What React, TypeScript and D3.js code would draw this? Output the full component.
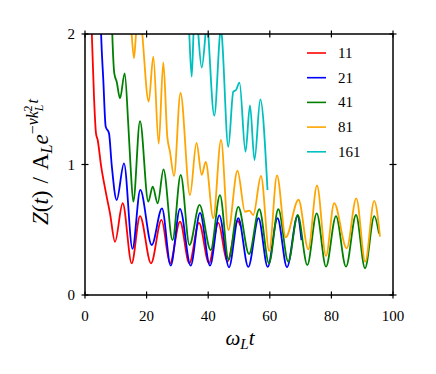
import React from "react";
import * as d3 from "d3";

const xTicks = [0, 20, 40, 60, 80, 100];
const yTicks = [0, 1, 2];
const seriesNames = ["11", "21", "41", "81", "161"];
const seriesColors = ["#ff0000", "#0000ff", "#008000", "#ffa500", "#00bfbf"];

const data11: [number, number][] = [
  [1.8, 2.3], [2.18, 2.03], [2.92, 1.52], [3.57, 1.239], [4.12, 1.188], [5.19, 0.996],
  [6.72, 0.792], [8.12, 0.626], [9.74, 0.408], [12.24, 0.703], [15.16, 0.243],
  [17.86, 0.605], [21.43, 0.243], [24.84, 0.575], [27.6, 0.243], [30.84, 0.562],
  [33.86, 0.243], [37.01, 0.552], [40.26, 0.245], [43.28, 0.552], [46.2, 0.255],
  [49.6, 0.567], [50.5, 0.53],
];

const data21: [number, number][] = [
  [4.9, 2.3], [5.19, 2.03], [5.94, 1.65], [6.72, 1.29], [7.79, 1.239], [8.67, 0.996],
  [10.29, 0.728], [12.66, 1.009], [15.42, 0.354], [17.95, 0.805], [21.66, 0.383],
  [25.0, 0.664], [27.82, 0.225], [30.84, 0.66], [34.32, 0.225], [37.34, 0.63],
  [40.58, 0.225], [43.6, 0.61], [46.75, 0.212], [49.77, 0.588], [53.02, 0.215],
  [56.33, 0.588], [59.32, 0.215], [62.5, 0.588], [65.58, 0.213], [68.99, 0.605],
  [70.29, 0.42],
];

const data41: [number, number][] = [
  [8.5, 2.3], [8.86, 2.0], [9.51, 1.699], [10.29, 1.634], [11.36, 1.507], [12.89, 1.699],
  [14.06, 1.303], [14.77, 0.996], [15.68, 0.715], [17.86, 1.333], [20.55, 0.715],
  [21.98, 0.83], [23.6, 0.703], [25.49, 0.962], [28.41, 0.421], [31.07, 0.92],
  [33.93, 0.383], [37.18, 0.69], [40.81, 0.345], [43.83, 0.766], [46.59, 0.272],
  [49.77, 0.675], [53.25, 0.314], [56.59, 0.657], [59.74, 0.243], [62.76, 0.657],
  [66.01, 0.255], [69.06, 0.613], [72.18, 0.23], [75.23, 0.626], [78.25, 0.217],
  [81.49, 0.605], [84.74, 0.217], [87.99, 0.613], [90.91, 0.205], [93.93, 0.605],
  [95.45, 0.47],
];

const data81: [number, number][] = [
  [14.5, 2.3], [15.16, 2.0], [15.91, 1.814], [16.56, 2.0], [17.5, 2.3], [18.6, 2.0],
  [20.68, 1.482], [22.18, 1.826], [23.93, 1.159], [25.42, 1.782], [26.72, 1.213],
  [27.6, 1.096], [28.9, 0.912], [31.0, 1.548], [34.09, 0.766], [36.2, 1.165],
  [37.89, 0.92], [39.2, 1.019], [41.66, 0.588], [44.16, 1.188], [46.53, 0.498],
  [49.51, 0.952], [51.95, 0.638], [53.4, 0.646], [54.64, 0.613], [57.14, 0.912],
  [59.81, 0.337], [62.34, 0.916], [65.16, 0.442], [69.32, 0.73], [72.5, 0.35],
  [75.32, 0.839], [78.25, 0.299], [80.9, 0.703], [84.97, 0.358], [88.08, 0.741],
  [91.0, 0.255], [93.9, 0.722], [95.78, 0.448],
];

const data161: [number, number][] = [
  [33.2, 2.4], [33.86, 2.0], [34.64, 1.673], [35.23, 2.0], [36.0, 2.3], [36.79, 2.0],
  [37.89, 1.743], [39.12, 2.0], [39.6, 2.15], [40.03, 2.0], [41.98, 1.374],
  [43.83, 2.0], [44.1, 2.05], [44.38, 2.0], [46.53, 1.136], [48.15, 1.558],
  [49.03, 1.571], [50.16, 1.628], [52.11, 1.098], [53.57, 1.452], [55.03, 1.034],
  [56.92, 1.498], [59.25, 0.805],
];

const allData = [data11, data21, data41, data81, data161];

const W = 436;
const H = 374;
const L = 85, R = 393, T = 34, B = 295;
const serif: React.CSSProperties = { fontFamily: "Liberation Serif, DejaVu Serif, serif" };

export default function App() {
  const x = d3.scaleLinear().domain([0, 100]).range([L, R]);
  const y = d3.scaleLinear().domain([0, 2]).range([B, T]);
  const line = d3
    .line<[number, number]>()
    .x((d) => x(d[0]))
    .y((d) => y(d[1]))
    .curve(d3.curveMonotoneX);
  const tk = 3.5;

  return (
    <svg
      width={W}
      height={H}
      style={{ position: "absolute", left: 0, top: 0, background: "#fff" }}
    >
      <defs>
        <clipPath id="plotclip">
          <rect x={L} y={T} width={R - L} height={B - T} />
        </clipPath>
      </defs>
      <g clipPath="url(#plotclip)">
        {allData.map((d, i) => (
          <path
            key={i}
            d={line(d) || ""}
            fill="none"
            stroke={seriesColors[i]}
            strokeWidth={1.8}
            strokeLinejoin="round"
          />
        ))}
      </g>
      <rect x={L} y={T} width={R - L} height={B - T} fill="none" stroke="#000" strokeWidth={1.5} />
      {xTicks.map((v) => (
        <g key={"x" + v}>
          <line x1={x(v)} x2={x(v)} y1={B - tk} y2={B + tk} stroke="#000" strokeWidth={1.2} />
          <line x1={x(v)} x2={x(v)} y1={T - tk} y2={T + tk} stroke="#000" strokeWidth={1.2} />
          <text x={x(v)} y={321} textAnchor="middle" fontSize={15} style={serif}>
            {v}
          </text>
        </g>
      ))}
      {yTicks.map((v) => (
        <g key={"y" + v}>
          <line x1={L - tk} x2={L + tk} y1={y(v)} y2={y(v)} stroke="#000" strokeWidth={1.2} />
          <line x1={R - tk} x2={R + tk} y1={y(v)} y2={y(v)} stroke="#000" strokeWidth={1.2} />
          <text x={75} y={y(v) + 5} textAnchor="end" fontSize={15} style={serif}>
            {v}
          </text>
        </g>
      ))}
      <text x={240} y={345} textAnchor="middle" fontSize={21} style={serif}>
        <tspan fontStyle="italic">ω</tspan>
        <tspan fontStyle="italic" fontSize={15} dy={4}>L</tspan>
        <tspan fontStyle="italic" dy={-4}>t</tspan>
      </text>
      <text transform="translate(48,162) rotate(-90)" textAnchor="middle" fontSize={23} style={serif}>
        <tspan fontStyle="italic">Z</tspan>
        <tspan>(</tspan>
        <tspan fontStyle="italic">t</tspan>
        <tspan>)</tspan>
        <tspan dx={7}>/</tspan>
        <tspan dx={7}>A</tspan>
        <tspan fontStyle="italic" fontSize={16} dy={4}>L</tspan>
        <tspan fontStyle="italic" dy={-4}>e</tspan>
        <tspan fontSize={16} dy={-10}>−</tspan>
        <tspan fontStyle="italic" fontSize={16}>νk</tspan>
        <tspan fontStyle="italic" fontSize={12} dy={5}>L</tspan>
        <tspan fontSize={12} dy={-11} dx={-7}>2</tspan>
        <tspan fontStyle="italic" fontSize={16} dy={6} dx={2}>t</tspan>
      </text>
      {seriesNames.map((n, i) => {
        const ly = 53 + i * 24.7;
        return (
          <g key={n}>
            <line x1={307} x2={326} y1={ly} y2={ly} stroke={seriesColors[i]} strokeWidth={1.6} />
            <text x={338} y={ly + 5} fontSize={15} style={serif}>
              {n}
            </text>
          </g>
        );
      })}
    </svg>
  );
}
